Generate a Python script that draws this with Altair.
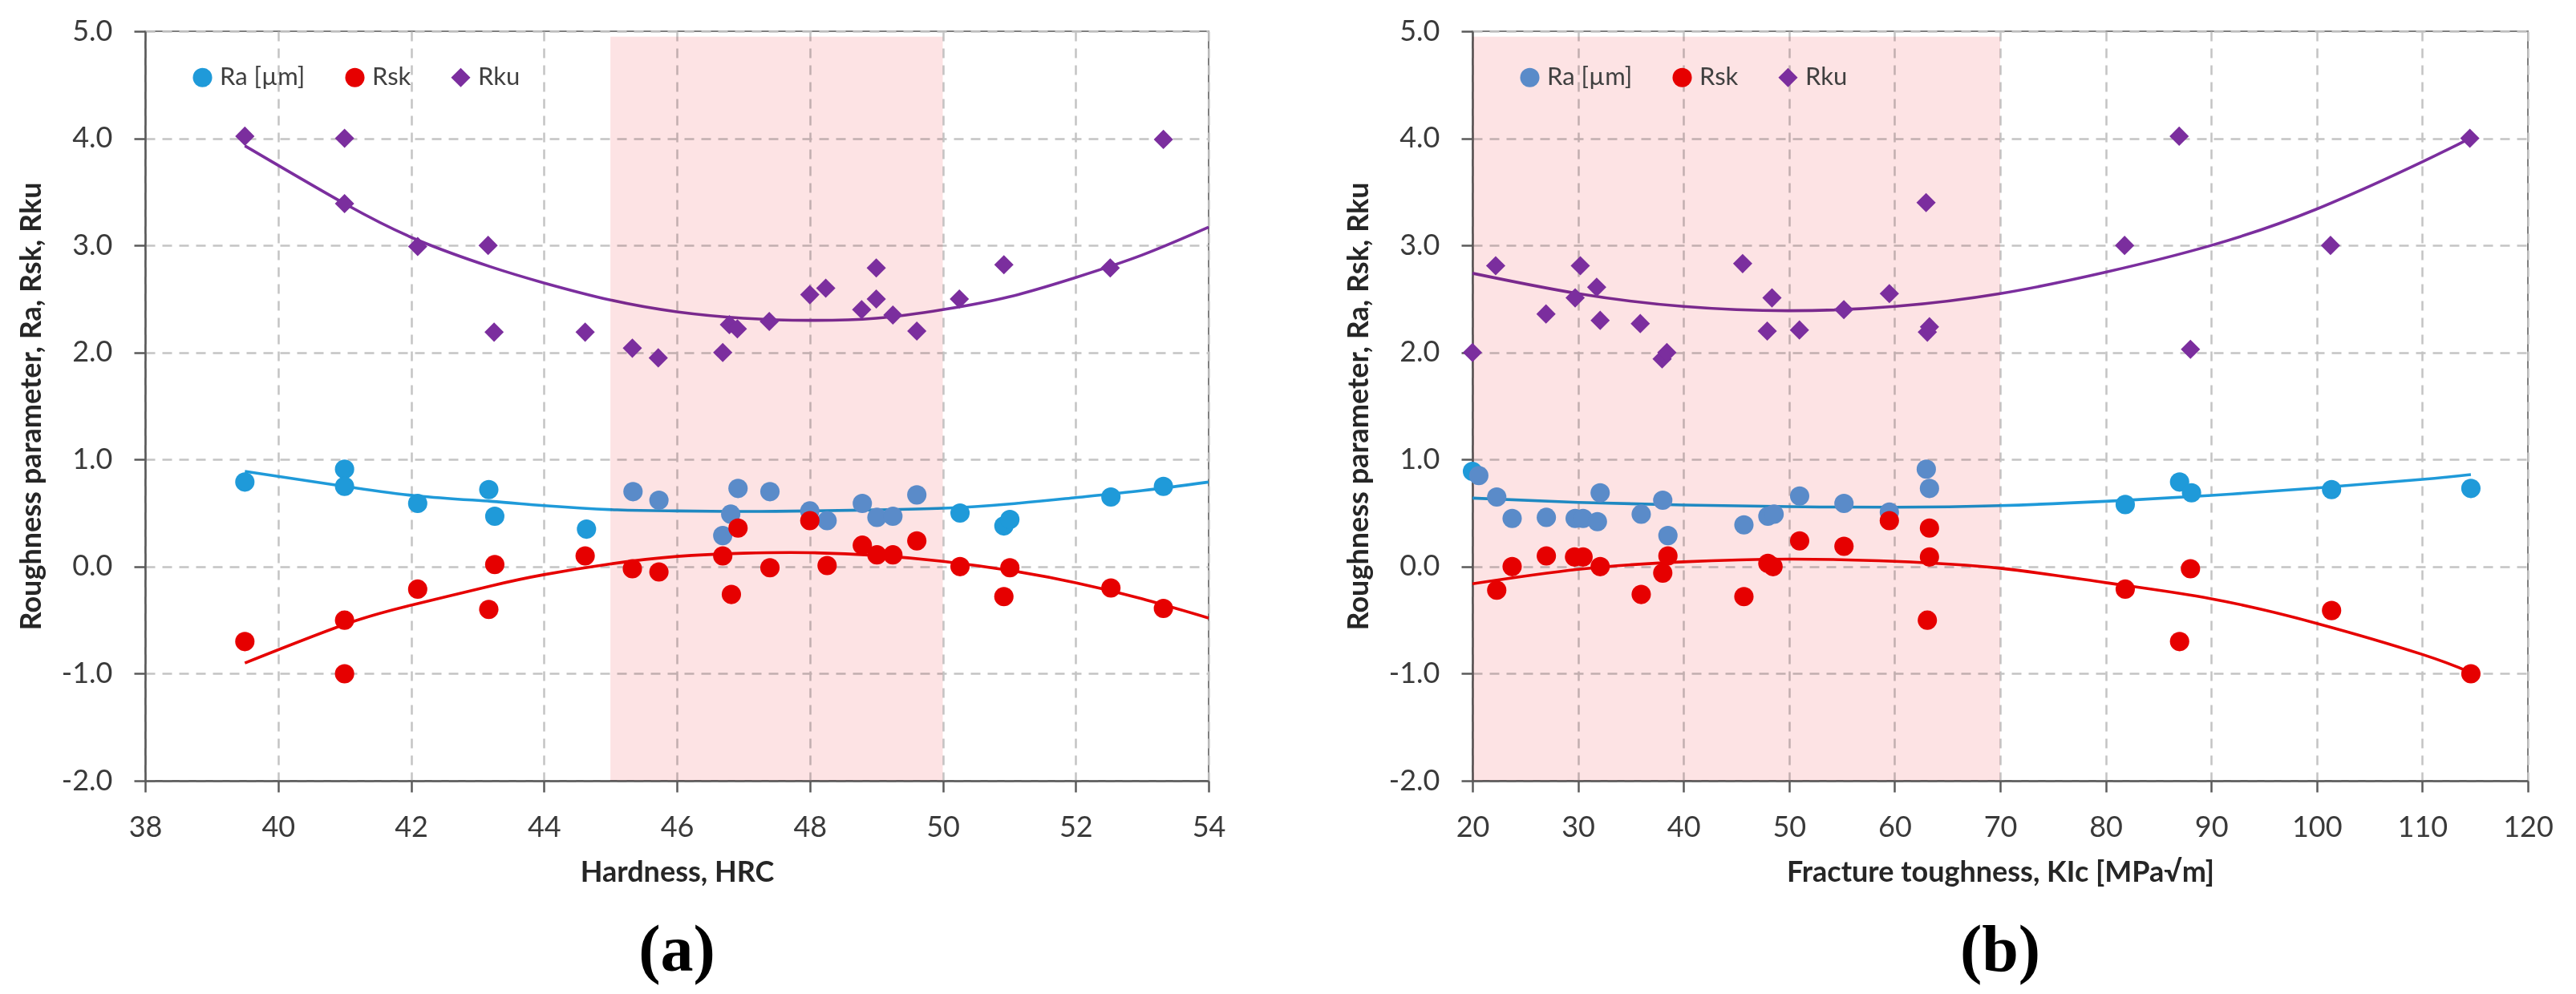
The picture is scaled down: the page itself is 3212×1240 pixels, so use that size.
import altair as alt
import pandas as pd

# ---------------- Panel (a): Hardness, HRC ----------------
HRC_RA_X = [39.5, 41.0, 41.0, 42.1, 43.17, 43.26, 44.64, 45.34, 45.73, 46.92, 47.40, 46.81,
            46.69, 48.0, 48.26, 48.79, 49.01, 49.25, 49.61, 50.26, 50.92, 51.01, 52.53, 53.32]
HRC_RA_Y = [0.79, 0.91, 0.75, 0.59, 0.72, 0.47, 0.35, 0.70, 0.62, 0.73, 0.70, 0.49,
            0.29, 0.52, 0.43, 0.59, 0.46, 0.47, 0.67, 0.50, 0.38, 0.44, 0.65, 0.75]

HRC_RSK_X = [39.5, 41.0, 41.0, 42.1, 43.17, 43.26, 44.62, 45.33, 45.73, 46.69, 46.82, 46.92,
             47.40, 48.0, 48.26, 48.79, 49.01, 49.25, 49.61, 50.26, 50.92, 51.01, 52.53, 53.32]
HRC_RSK_Y = [-0.70, -0.50, -1.00, -0.21, -0.40, 0.02, 0.10, -0.02, -0.05, 0.10, -0.26, 0.36,
             -0.01, 0.43, 0.01, 0.20, 0.11, 0.11, 0.24, 0.00, -0.28, -0.01, -0.20, -0.39]

HRC_RKU_X = [39.5, 41.0, 41.0, 42.1, 43.16, 43.25, 44.62, 45.33, 45.72, 46.69, 46.79, 46.91,
             47.39, 48.0, 48.24, 48.78, 49.0, 49.0, 49.25, 49.61, 50.25, 50.92, 52.52, 53.32]
HRC_RKU_Y = [4.02, 4.00, 3.39, 2.99, 3.00, 2.19, 2.19, 2.04, 1.95, 2.00, 2.26, 2.22,
             2.29, 2.54, 2.60, 2.40, 2.50, 2.79, 2.35, 2.20, 2.50, 2.82, 2.79, 3.99]

# trend lines (a)
HRC_RA_FIT_X = [39.5, 41.0, 42.1, 43.2, 44.0, 45.1, 46.0, 47.0, 48.0, 49.0, 50.0, 51.0, 52.0, 53.0, 54.0]
HRC_RA_FIT_Y = [0.89, 0.75, 0.66, 0.61, 0.57, 0.53, 0.52, 0.515, 0.52, 0.53, 0.545, 0.585, 0.645, 0.71, 0.79]
HRC_RSK_FIT_X = [39.5, 41.0, 42.0, 43.2, 44.0, 45.0, 46.0, 47.0, 48.0, 49.0, 50.0, 51.0, 52.0, 53.0, 54.0]
HRC_RSK_FIT_Y = [-0.90, -0.54, -0.36, -0.18, -0.075, 0.025, 0.095, 0.125, 0.13, 0.105, 0.05, -0.035,
                 -0.15, -0.30, -0.48]
HRC_RKU_FIT_X = [39.5, 41.0, 42.1, 43.2, 44.0, 45.0, 46.0, 47.0, 48.0, 49.0, 50.0, 51.0, 52.0, 53.0, 54.0]
HRC_RKU_FIT_Y = [3.93, 3.39, 3.05, 2.80, 2.65, 2.49, 2.38, 2.32, 2.30, 2.32, 2.40, 2.52, 2.70, 2.91, 3.17]

# ---------------- Panel (b): Fracture toughness, KIc ----------------
KIC_RA_X = [20.0, 20.6, 22.3, 23.76, 27.0, 29.73, 30.48, 31.84, 32.1, 35.99, 38.03, 38.52,
            45.72, 47.99, 48.58, 51.0, 55.2, 59.5, 63.0, 63.3, 81.85, 87.0, 88.13, 101.4, 114.6]
KIC_RA_Y = [0.89, 0.85, 0.65, 0.45, 0.46, 0.45, 0.45, 0.42, 0.69, 0.49, 0.62, 0.29,
            0.39, 0.47, 0.49, 0.66, 0.59, 0.51, 0.91, 0.73, 0.58, 0.79, 0.69, 0.72, 0.73]

KIC_RSK_X = [22.3, 23.76, 27.0, 29.67, 30.48, 32.1, 35.99, 38.03, 38.52, 45.72, 47.99, 48.48,
             51.0, 55.2, 59.5, 63.3, 63.3, 63.1, 81.85, 87.0, 88.03, 101.4, 114.6]
KIC_RSK_Y = [-0.22, 0.00, 0.10, 0.09, 0.09, 0.00, -0.26, -0.06, 0.10, -0.28, 0.03, 0.00,
             0.24, 0.19, 0.43, 0.36, 0.09, -0.50, -0.21, -0.70, -0.02, -0.41, -1.00]

KIC_RKU_X = [20.0, 22.2, 26.97, 29.73, 30.22, 31.77, 32.1, 35.9, 37.97, 38.42, 45.6, 47.93,
             48.38, 50.98, 55.19, 59.5, 62.98, 63.1, 63.3, 81.79, 86.96, 88.03, 101.3, 114.5]
KIC_RKU_Y = [2.00, 2.81, 2.36, 2.51, 2.81, 2.61, 2.30, 2.27, 1.94, 2.00, 2.83, 2.20,
             2.51, 2.21, 2.40, 2.55, 3.40, 2.19, 2.24, 3.00, 4.02, 2.03, 3.00, 4.00]

# trend lines (b)
KIC_RA_FIT_X = [20, 30, 40, 50, 60, 70, 80, 90, 100, 110, 114.6]
KIC_RA_FIT_Y = [0.64, 0.60, 0.575, 0.56, 0.555, 0.57, 0.61, 0.665, 0.735, 0.815, 0.86]
KIC_RSK_FIT_X = [20, 30, 40, 50, 60, 70, 80, 90, 100, 110, 114.6]
KIC_RSK_FIT_Y = [-0.16, -0.025, 0.045, 0.07, 0.05, -0.015, -0.15, -0.30, -0.53, -0.82, -0.99]
KIC_RKU_FIT_X = [20, 30, 40, 50, 60, 70, 80, 90, 100, 110, 114.5]
KIC_RKU_FIT_Y = [2.74, 2.55, 2.43, 2.39, 2.43, 2.55, 2.75, 3.00, 3.34, 3.78, 4.00]

SERIES = ["Ra [µm]", "Rsk", "Rku"]
KEYS = ["Ra [µm]", "Ra*", "Rsk", "Rku"]
KEY_COLORS = ["#1F9AD9", "#5A8BC9", "#E60000", "#7B2E9E"]
KEY_SHAPES = ["circle", "circle", "circle", "diamond"]
KEY_SIZES = [580, 580, 580, 700]
LINE_COLORS = {"Ra [µm]": "#1F9AD9", "Rsk": "#E60000", "Rku": "#7B2E9E"}
PINK = "#FDE3E4"

SHADE_A = [45, 50]
SHADE_B = [20, 70]
Y_TICKS = [-2, -1, 0, 1, 2, 3, 4, 5]
HRC_TICKS = [38, 40, 42, 44, 46, 48, 50, 52, 54]
KIC_TICKS = [20, 30, 40, 50, 60, 70, 80, 90, 100, 110, 120]

Y_TITLE = "Roughness parameter, Ra, Rsk, Rku"
Y_LABEL_EXPR = "datum.value < 0 ? '-' + format(-datum.value, '.1f') : format(datum.value, '.1f')"


def panel(data, fits, shade, xdom, ticks, xtitle, letter, legend_values, width):
    rows = []
    for name, (xs, ys) in data.items():
        for x, y in zip(xs, ys):
            key = name
            if name == "Ra [µm]" and shade[0] < x < shade[1]:
                key = "Ra*"
            rows.append({"x": x, "y": y, "series": name, "key": key})
    df = pd.DataFrame(rows)

    xscale = alt.Scale(domain=xdom, nice=False, zero=False)
    yscale = alt.Scale(domain=[-2, 5], nice=False, zero=False)
    xaxis = alt.Axis(values=ticks, title=xtitle, format="d")
    yaxis = alt.Axis(values=Y_TICKS, title=Y_TITLE, labelExpr=Y_LABEL_EXPR)

    layers = []
    for s in SERIES:
        fx, fy = fits[s]
        fdf = pd.DataFrame({"x": fx, "y": fy})
        layers.append(
            alt.Chart(fdf).mark_line(color=LINE_COLORS[s], strokeWidth=3.6, interpolate="natural")
            .encode(x=alt.X("x:Q", scale=xscale, axis=xaxis),
                    y=alt.Y("y:Q", scale=yscale, axis=yaxis))
        )

    shade_df = pd.DataFrame({"x0": [shade[0]], "x1": [shade[1]], "y0": [-2.0], "y1": [4.95]})
    rect = alt.Chart(shade_df).mark_rect(color=PINK, blend="multiply").encode(
        x=alt.X("x0:Q", scale=xscale, axis=xaxis),
        x2="x1:Q",
        y=alt.Y("y0:Q", scale=yscale, axis=yaxis),
        y2="y1:Q",
    )
    layers.append(rect)

    legend = alt.Legend(
        orient="none", legendX=56, legendY=42, direction="horizontal", title=None,
        values=legend_values,
        labelExpr="datum.label == 'Ra*' ? 'Ra [µm]' : datum.label",
        labelFont="Lato", labelFontSize=31, labelColor="#404040",
        symbolSize=640, symbolStrokeWidth=0, columnPadding=46, labelOffset=6, padding=0,
    )
    pts = alt.Chart(df).mark_point(filled=True, opacity=1).encode(
        x=alt.X("x:Q", scale=xscale, axis=xaxis),
        y=alt.Y("y:Q", scale=yscale, axis=yaxis),
        color=alt.Color("key:N", scale=alt.Scale(domain=KEYS, range=KEY_COLORS), legend=legend),
        shape=alt.Shape("key:N", scale=alt.Scale(domain=KEYS, range=KEY_SHAPES), legend=legend),
        size=alt.Size("key:O", scale=alt.Scale(domain=KEYS, range=KEY_SIZES), legend=None),
    )
    layers.append(pts)

    return alt.layer(*layers).properties(
        width=width, height=935,
        title=alt.TitleParams(letter, orient="bottom", anchor="middle", font="Liberation Serif",
                              fontSize=82, fontWeight="bold", color="black", offset=40),
    )


panel_a = panel({"Ra [µm]": (HRC_RA_X, HRC_RA_Y), "Rsk": (HRC_RSK_X, HRC_RSK_Y),
                 "Rku": (HRC_RKU_X, HRC_RKU_Y)},
                {"Ra [µm]": (HRC_RA_FIT_X, HRC_RA_FIT_Y), "Rsk": (HRC_RSK_FIT_X, HRC_RSK_FIT_Y),
                 "Rku": (HRC_RKU_FIT_X, HRC_RKU_FIT_Y)},
                SHADE_A, [38, 54], HRC_TICKS, "Hardness, HRC", "(a)",
                ["Ra [µm]", "Rsk", "Rku"], 1326)

panel_b = panel({"Ra [µm]": (KIC_RA_X, KIC_RA_Y), "Rsk": (KIC_RSK_X, KIC_RSK_Y),
                 "Rku": (KIC_RKU_X, KIC_RKU_Y)},
                {"Ra [µm]": (KIC_RA_FIT_X, KIC_RA_FIT_Y), "Rsk": (KIC_RSK_FIT_X, KIC_RSK_FIT_Y),
                 "Rku": (KIC_RKU_FIT_X, KIC_RKU_FIT_Y)},
                SHADE_B, [20, 120], KIC_TICKS, "Fracture toughness, KIc [MPa√m]", "(b)",
                ["Ra*", "Rsk", "Rku"], 1316)

chart = (
    alt.hconcat(panel_a, panel_b, spacing=329, bounds="flush")
    .resolve_scale(x="independent", y="independent", color="independent", shape="independent",
                   size="independent")
    .resolve_legend(color="independent", shape="independent")
    .properties(padding={"left": 12, "top": 12, "right": 5, "bottom": 5}, background="white")
    .configure_view(stroke="#7F7F7F", strokeWidth=2)
    .configure_axis(
        labelFont="Lato", labelFontSize=36, labelColor="#3A3A3A",
        titleFont="Lato", titleFontSize=36, titleFontWeight="bold", titleColor="#262626",
        gridColor="#C4C4C4", gridDash=[12, 9], gridWidth=2.5,
        domainColor="#5A5A5A", domainWidth=2.5, tickColor="#5A5A5A", tickWidth=2.5,
        tickSize=14, labelPadding=27, labelFlush=False, labelOverlap=False,
    )
    .configure_axisX(titlePadding=21)
    .configure_axisY(titlePadding=18)
)

chart.save("out.html", embed_options={"renderer": "svg", "actions": False})
